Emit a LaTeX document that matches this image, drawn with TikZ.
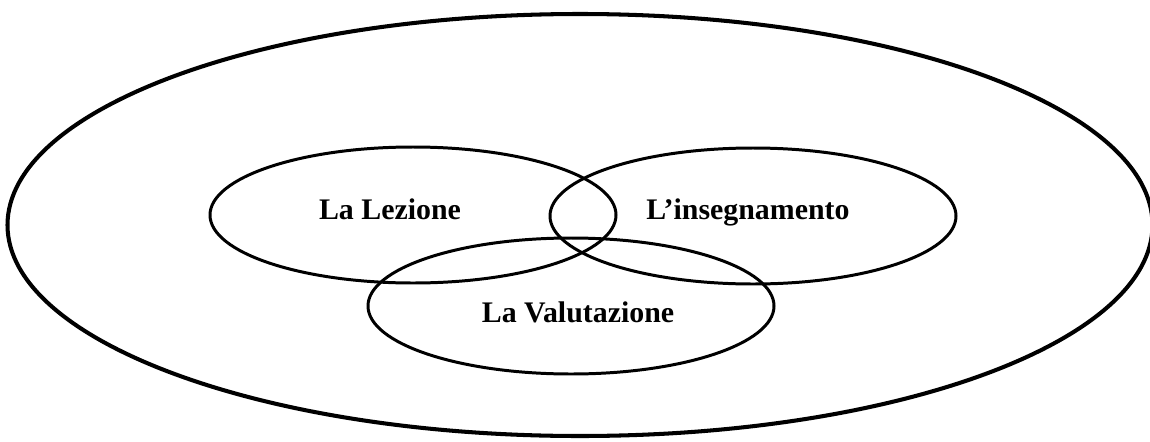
\documentclass[tikz,border=0pt]{standalone}
\usepackage{fontspec}
\setmainfont{Liberation Serif}
\usetikzlibrary{shapes.geometric}

\begin{document}
\begin{tikzpicture}[
    set/.style={draw, ellipse, inner sep=0pt, line width=1.7pt, minimum width=8.12cm, minimum height=2.72cm},
    setname/.style={anchor=base, font=\fontsize{17}{20}\selectfont\bfseries}
]
    \useasboundingbox (0,0) rectangle (23,8.82);

    % outer set
    \node[draw, ellipse, inner sep=0pt, line width=2.3pt, minimum width=22.9cm, minimum height=8.44cm] (world) at (11.6,4.32) {};

    % the three sets
    \node[set] (lez) at (8.26,4.52) {};
    \node[set] (ins) at (15.06,4.50) {};
    \node[set] (val) at (11.42,2.70) {};

    \node[setname] (lezname) at (7.8,4.44) {La Lezione};
    \node[setname] (insname) at (14.96,4.44) {L’insegnamento};
    \node[setname] (valname) at (11.56,2.38) {La Valutazione};
\end{tikzpicture}
\end{document}
